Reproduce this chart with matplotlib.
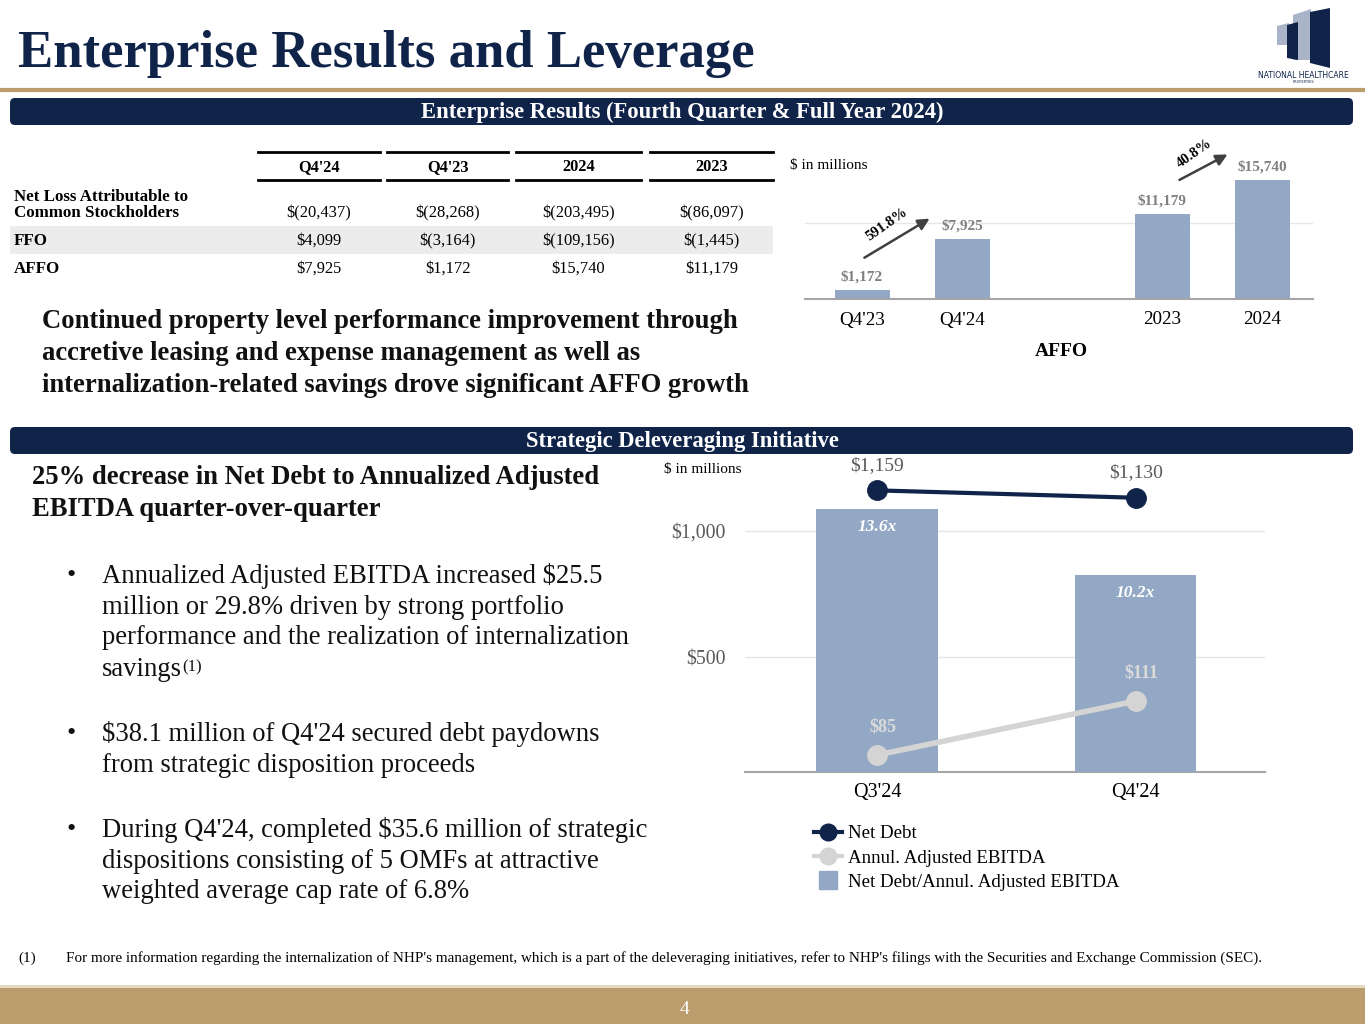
import matplotlib
matplotlib.use("Agg")
from matplotlib import pyplot as plt
from matplotlib.patches import FancyBboxPatch, Rectangle, Polygon
from matplotlib.lines import Line2D

plt.rcParams["font.family"] = ["Liberation Serif", "DejaVu Serif"]

NAVY = "#10244a"
GOLD = "#bb9c6d"
BAR = "#93a8c5"
GREY_TXT = "#595959"
EBITDA_C = "#d4d4d4"

# table
table_cols = ["Q4'24", "Q4'23", "2024", "2023"]
table_rows = ["Net Loss Attributable to\nCommon Stockholders", "FFO", "AFFO"]
table_vals = [["$(20,437)", "$(28,268)", "$(203,495)", "$(86,097)"],
              ["$4,099", "$(3,164)", "$(109,156)", "$(1,445)"],
              ["$7,925", "$1,172", "$15,740", "$11,179"]]

# AFFO chart
affo_labels = ["Q4'23", "Q4'24", "2023", "2024"]
affo_pos = [0, 1, 3, 4]
affo_vals = [1172, 7925, 11179, 15740]
affo_growth = ["591.8%", "40.8%"]
arrow_pairs = [(0, 1), (2, 3)]
arrow_start_off = [(0.0, 4100), (0.15, 4400)]
arrow_end_off = [(-0.3, 2900), (-0.32, 3550)]

# leverage chart
lev_labels = ["Q3'24", "Q4'24"]
net_debt = [1159, 1130]
ebitda = [85, 111]
ratio = [13.6, 10.2]

W, H = 1365, 1024
fig = plt.figure(figsize=(13.65, 10.24), dpi=100)
bg = fig.add_axes([0, 0, 1, 1])
bg.set_xlim(0, W)
bg.set_ylim(H, 0)
bg.axis("off")


def box(x0, y0, x1, y1):
    return [x0 / W, 1 - y1 / H, (x1 - x0) / W, (y1 - y0) / H]


# title + logo
bg.text(18, 67, "Enterprise Results and Leverage", fontsize=38, weight="bold",
        color=NAVY, va="baseline")
bg.plot([0, W], [90, 90], color=GOLD, lw=3)
bg.add_patch(Polygon([(1293, 15), (1311, 9), (1311, 60), (1293, 60)], fc="#a9b4c8"))
bg.add_patch(Polygon([(1310, 12), (1330, 8), (1330, 68), (1310, 63)], fc=NAVY))
bg.add_patch(Polygon([(1277, 26), (1289, 23), (1289, 45), (1277, 45)], fc="#a9b4c8"))
bg.add_patch(Polygon([(1287, 25), (1298, 22), (1298, 60), (1287, 58)], fc=NAVY))
bg.text(1303, 76, "NATIONAL HEALTHCARE", fontsize=5.5, color=NAVY, ha="center",
        va="center", family=["DejaVu Sans"])
bg.text(1303, 82, "PROPERTIES", fontsize=2.5, color=NAVY, ha="center", va="center",
        family=["DejaVu Sans"])

# banners
for y0, label in [(98, "Enterprise Results (Fourth Quarter & Full Year 2024)"),
                  (427, "Strategic Deleveraging Initiative")]:
    bg.add_patch(FancyBboxPatch((10, y0), 1343, 27, boxstyle="round,pad=0,rounding_size=5",
                                fc=NAVY, ec="none"))
    bg.text(682, y0 + 14, label, fontsize=16.3, weight="bold", color="white",
            ha="center", va="center")

# table
col_spans = [(258, 380), (387, 508), (516, 641), (650, 773)]
bg.add_patch(Rectangle((10, 226), 763, 28, fc="#ececec", ec="none"))
for (x0, x1), c in zip(col_spans, table_cols):
    bg.plot([x0, x1], [152, 152], color="black", lw=2)
    bg.plot([x0, x1], [180, 180], color="black", lw=2)
    bg.text((x0 + x1) / 2, 167, c, fontsize=11.8, weight="bold", ha="center", va="center")
row_y = [213, 241, 269]
for r, (lab, vals) in enumerate(zip(table_rows, table_vals)):
    if "\n" in lab:
        bg.text(14, row_y[r] + 8, lab, fontsize=12.2, weight="bold", ha="left", va="bottom",
                linespacing=1.0)
    else:
        bg.text(14, row_y[r], lab, fontsize=12.2, weight="bold", ha="left", va="center")
    for (x0, x1), v in zip(col_spans, vals):
        bg.text((x0 + x1) / 2, row_y[r], v, fontsize=11.9, ha="center", va="center")

# body text top
for i, line in enumerate(["Continued property level performance improvement through",
                          "accretive leasing and expense management as well as",
                          "internalization-related savings drove significant AFFO growth"]):
    bg.text(42, 321 + 32 * i, line, fontsize=19.2, weight="bold", va="center", color="#111111")

# body text bottom
bg.text(32, 478, "25% decrease in Net Debt to Annualized Adjusted", fontsize=19.2,
        weight="bold", va="center", color="#111111")
bg.text(32, 510, "EBITDA quarter-over-quarter", fontsize=19.2, weight="bold",
        va="center", color="#111111")
bullets = [
    (576, ["Annualized Adjusted EBITDA increased $25.5",
           "million or 29.8% driven by strong portfolio",
           "performance and the realization of internalization",
           "savings"]),
    (734, ["$38.1 million of Q4'24 secured debt paydowns",
           "from strategic disposition proceeds"]),
    (830, ["During Q4'24, completed $35.6 million of strategic",
           "dispositions consisting of 5 OMFs at attractive",
           "weighted average cap rate of 6.8%"]),
]
for y0, lines in bullets:
    bg.text(67, y0, "\u2022", fontsize=19, va="center", color="#111111")
    for i, line in enumerate(lines):
        t = bg.text(102, y0 + 31 * i, line, fontsize=19.2, va="center", color="#111111")
        if line == "savings":
            bg.annotate("(1)", xy=(1.0, 0.9), xycoords=t, fontsize=12, va="top",
                        ha="left", color="#111111")

# footnote + bottom band
bg.text(18, 958, "(1)", fontsize=10.9, va="center")
bg.text(66, 958, "For more information regarding the internalization of NHP's management, "
        "which is a part of the deleveraging initiatives, refer to NHP's filings with the "
        "Securities and Exchange Commission (SEC).", fontsize=10.9, va="center")
bg.add_patch(Rectangle((0, 985), W, 3, fc="#e6d9c4", ec="none"))
bg.add_patch(Rectangle((0, 988), W, 36, fc=GOLD, ec="none"))
bg.text(684, 1009, "4", fontsize=14, color="white", ha="center", va="center")

# AFFO chart
ax = fig.add_axes(box(805, 144, 1313, 299))
ax.set_facecolor("none")
ax.bar(affo_pos, affo_vals, width=0.55, color=BAR, zorder=2)
ax.axhline(10000, color="#e6e6e6", lw=1, zorder=0)
ax.set_xlim(-0.57, 4.51)
ax.set_ylim(0, 20500)
for s in ["top", "right", "left"]:
    ax.spines[s].set_visible(False)
ax.spines["bottom"].set_color("#a6a6a6")
ax.spines["bottom"].set_linewidth(1.5)
ax.set_yticks([])
ax.set_xticks(affo_pos)
ax.set_xticklabels(affo_labels, fontsize=13.8)
ax.tick_params(axis="x", length=0, pad=9)
for p, v in zip(affo_pos, affo_vals):
    ax.annotate(f"${v:,}", (p, v), xytext=(0, 5), textcoords="offset points",
                ha="center", va="bottom", fontsize=11, weight="bold", color="#808080")
for (i, j), so, eo, g in zip(arrow_pairs, arrow_start_off, arrow_end_off, affo_growth):
    start = (affo_pos[i] + so[0], affo_vals[i] + so[1])
    end = (affo_pos[j] + eo[0], affo_vals[j] + eo[1])
    ax.annotate("", xy=end, xytext=start,
                arrowprops=dict(arrowstyle="-|>", color="#404040", lw=1.8, mutation_scale=17),
                annotation_clip=False)
    mid = ((start[0] + end[0]) / 2, (start[1] + end[1]) / 2)
    ax.annotate(g, mid, xytext=(-7, 10), textcoords="offset points", ha="center",
                va="center", rotation=35, fontsize=10.5, weight="bold",
                annotation_clip=False)
bg.text(790, 166, "$ in millions", fontsize=11, va="center")
bg.text(1061, 352, "AFFO", fontsize=14, weight="bold", ha="center", va="center")

# leverage chart
lx = [0, 1]
axm = fig.add_axes(box(745, 460, 1265, 771.7))
axm.set_facecolor("none")
axm.set_ylim(48, 1279)
axm.set_xlim(-0.51, 1.5)
axm.set_yticks([500, 1000])
axm.set_yticklabels(["$500", "$1,000"], fontsize=14.3, color=GREY_TXT)
axm.grid(axis="y", color="#e6e6e6", lw=1)
axm.set_xticks(lx)
axm.set_xticklabels(lev_labels, fontsize=14.5)
axm.tick_params(axis="both", length=0)
axm.tick_params(axis="x", pad=8)
axm.tick_params(axis="y", pad=14)
for s in ["top", "right", "left"]:
    axm.spines[s].set_visible(False)
axm.spines["bottom"].set_color("#a6a6a6")
axm.spines["bottom"].set_linewidth(1.5)

axb = axm.twinx()
axb.bar(lx, ratio, width=0.47, color=BAR)
axb.set_ylim(0, 16.15)
for x, r in zip(lx, ratio):
    axb.annotate(f"{r}x", (x, r), xytext=(0, -13), textcoords="offset points",
                 ha="center", va="center", fontsize=12.5, weight="bold", style="italic",
                 color="white")

axd = axm.twinx()
axd.plot(lx, net_debt, color=NAVY, lw=3, marker="o", markersize=14)
axd.set_ylim(48, 1279)
for x, v in zip(lx, net_debt):
    axd.annotate(f"${v:,}", (x, v), xytext=(0, 18), textcoords="offset points",
                 ha="center", va="center", fontsize=14, color=GREY_TXT,
                 annotation_clip=False)

axe = axm.twinx()
axe.plot(lx, ebitda, color=EBITDA_C, lw=4, marker="o", markersize=14)
axe.set_ylim(77, 227)
for x, v in zip(lx, ebitda):
    axe.annotate(f"${v:,}", (x, v), xytext=(4, 20), textcoords="offset points",
                 ha="center", va="center", fontsize=13, weight="bold", color="#dadada")

for a in (axb, axd, axe):
    a.set_yticks([])
    a.set_xlim(-0.51, 1.5)
    for s in a.spines.values():
        s.set_visible(False)

bg.text(664, 470, "$ in millions", fontsize=11, va="center")

handles = [Line2D([], [], color=NAVY, lw=3, marker="o", markersize=12),
           Line2D([], [], color=EBITDA_C, lw=3, marker="o", markersize=12),
           Line2D([], [], color=BAR, lw=0, marker="s", markersize=13)]
fig.legend(handles, ["Net Debt", "Annul. Adjusted EBITDA", "Net Debt/Annul. Adjusted EBITDA"],
           loc="upper left", bbox_to_anchor=(814 / W, 1 - 825 / H), frameon=False,
           fontsize=13.6, handlelength=1.5, handletextpad=0.3, labelspacing=0.38,
           borderpad=0, borderaxespad=0)

fig.savefig("out.png", dpi=100)
